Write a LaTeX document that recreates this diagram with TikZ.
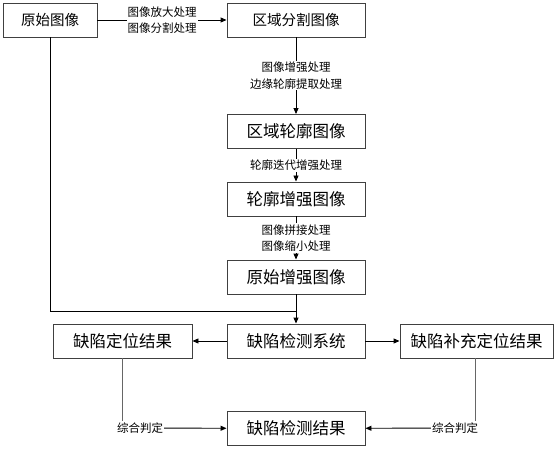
\documentclass[tikz,border=0pt]{standalone}
\usepackage{fontspec}
\newfontfamily\cjk{Noto Sans CJK SC}
\usetikzlibrary{arrows.meta}
\begin{document}
\begin{tikzpicture}[
    x=1pt, y=1pt,
    box/.style={rectangle, draw=black!75, line width=0.9pt, fill=white, minimum width=138pt, minimum height=34pt, inner sep=0pt, align=center, font=\cjk\fontsize{16.5}{18}\selectfont},
    topbox/.style={box, font=\cjk\fontsize{14.5}{16}\selectfont},
    wide/.style={box, minimum width=153pt},
    lbl/.style={fill=white, inner sep=1pt, align=center, font=\cjk\fontsize{11.5}{16.5}\selectfont},
    arrow/.style={-{Triangle[length=6pt,width=5pt]}, line width=0.9pt},
    line/.style={line width=0.9pt}
]
\useasboundingbox (0,0) rectangle (554,-449);

% Image boxes
\node[topbox, minimum width=94pt] (orig) at (50,-20) {原始图像};
\node[topbox] (seg) at (296,-20) {区域分割图像};
\node[box] (contour) at (296,-131.5) {区域轮廓图像};
\node[box] (enh) at (296,-199) {轮廓增强图像};
\node[box] (origenh) at (296,-277) {原始增强图像};

% Detection boxes
\node[box, minimum width=139pt] (loc) at (122.5,-341) {缺陷定位结果};
\node[box] (sys) at (296,-341) {缺陷检测系统};
\node[wide] (supp) at (476.5,-341) {缺陷补充定位结果};
\node[box] (res) at (296,-428.5) {缺陷检测结果};

% Judgement labels
\node[lbl] (judgeL) at (140,-428) {综合判定};
\node[lbl] (judgeR) at (455,-428) {综合判定};
\coordinate (merge) at (296,-311);

% Connections
\draw[arrow] (orig) -- node[lbl] {图像放大处理\\图像分割处理} (seg);
\draw[arrow] (seg) -- node[lbl] {图像增强处理\\边缘轮廓提取处理} (contour);
\draw[arrow] (contour) -- node[lbl] {轮廓迭代增强处理} (enh);
\draw[arrow] (enh) -- node[lbl] {图像拼接处理\\图像缩小处理} (origenh);
\draw[line] (orig.south) |- (merge);
\draw[arrow] (origenh) -- (sys);

\draw[arrow] (sys) -- (loc);
\draw[arrow] (sys) -- (supp);

\draw[line, black!60] (loc.south) -- (loc.south |- judgeL.north);
\draw[line, black!60] (supp.south -| 475,0) -- (judgeR.north -| 475,0);
\draw[arrow] (judgeL) -- (res);
\draw[arrow] (judgeR) -- (res);

\end{tikzpicture}
\end{document}
